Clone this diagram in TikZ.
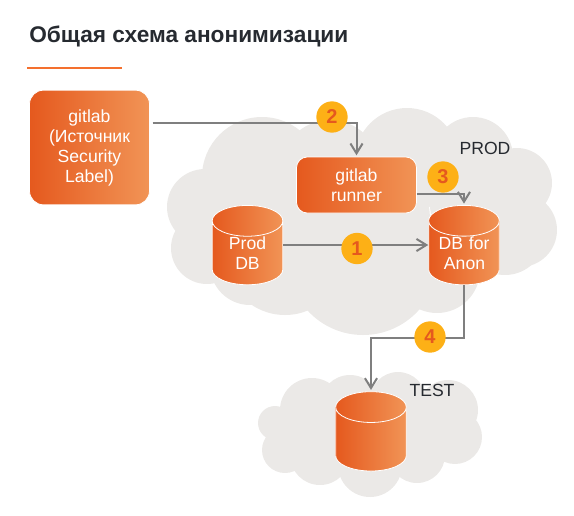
\documentclass[tikz,border=0pt]{standalone}
\usepackage{fontspec}
\setmainfont{Liberation Sans}
\usetikzlibrary{arrows.meta, positioning, shapes.geometric}
\definecolor{figorange}{HTML}{E5591E}
\definecolor{figpeach}{HTML}{F19456}
\definecolor{figaccent}{HTML}{F4702E}
\definecolor{figcloud}{HTML}{EBE9E7}
\definecolor{figgray}{HTML}{7F7F7F}
\definecolor{figbadge}{HTML}{FDB016}
\definecolor{figdark}{HTML}{262A30}
\tikzset{
  figbox/.style={draw=white, line width=0.6pt, left color=figorange, right color=figpeach,
    align=center, text=white, inner sep=0pt, font=\fontsize{13.2}{15}\selectfont},
  figdb/.style={figbox, cylinder, shape border rotate=90, aspect=0.77, text width=30pt,
    minimum width=53pt, minimum height=59pt},
  figarrow/.style={-{Straight Barb[length=2.6mm, width=3.2mm, line width=1.5pt]}, line width=1.5pt, figgray},
  figbadge/.style={circle, fill=figbadge, text=figorange, minimum size=23.5pt, inner sep=0pt,
    font=\fontsize{15}{15}\selectfont\bfseries},
  figlabel/.style={text=figdark, font=\fontsize{13.2}{15}\selectfont},
}
\begin{document}
\begin{tikzpicture}[x=0.75pt, y=-0.75pt]
  \useasboundingbox (0,0) rectangle (574,515);
  % clouds
  \foreach \cx/\cy/\cr in {262/177/60, 205/207/38, 207/248/36, 250/265/40, 285/255/60, 330/170/50,
      407/160/52, 473/157/40, 517/183/35, 520/230/37, 505/235/40, 437/270/43, 363/260/75, 350/220/80, 470/205/40}
    \fill[figcloud] (\cx,\cy) circle (\cr);
  \foreach \cx/\cy/\cr in {312/410/32, 275/423/17, 285/450/23, 320/455/30, 370/465/32, 417/455/28,
      455/437/27, 448/410/30, 398/400/28, 350/405/30, 370/435/45, 415/425/30}
    \fill[figcloud] (\cx,\cy) circle (\cr);
  % title
  \node[anchor=west, inner sep=0pt, text=figdark, font=\fontsize{17}{20}\selectfont\bfseries] (title) at (29,36) {Общая схема анонимизации};
  \draw[figaccent, line width=1.5pt] (27,67.5) -- (122,67.5);
  % boxes
  \node[figbox, rounded corners=10.5pt, minimum width=90pt, minimum height=86pt] (source) at (89.5,147.5)
    {gitlab\\(Источник\\Security\\Label)};
  \node[figbox, rounded corners=8pt, minimum width=90pt, minimum height=42pt] (runner) at (356.5,185) {gitlab\\runner};
  \node[figdb] (prod) at (247.5,253) {Prod\\DB};
  \node[figdb, right=108.75pt of prod] (anon) {\makebox[0pt]{DB for}\\Anon};
  \node[figdb, below=79.5pt of anon, xshift=-69.75pt] (test) {\phantom{Prod}\\\phantom{DB}};
  \node[figlabel] (prodlabel) at (485,148) {PROD};
  \node[figlabel] (testlabel) at (432,390) {TEST};
  % arrows
  \draw[figarrow, shorten <=2pt] ([yshift=18.5pt]source.east) -| ([yshift=1pt]runner.north);
  \draw[figarrow, shorten >=1pt] ([yshift=-7pt]runner.east) -| (anon.north);
  \draw[figarrow] ([yshift=6pt]prod.east) -- ([yshift=6pt]anon.west);
  \draw[figarrow, shorten >=1pt] (anon.south) |- (400,338) -| (test.north);
  % badges
  \node[figbadge] (one) at (357,248.5) {1};
  \node[figbadge] (two) at (332,117) {2};
  \node[figbadge] (three) at (443,177) {3};
  \node[figbadge] (four) at (430,337) {4};
\end{tikzpicture}
\end{document}
